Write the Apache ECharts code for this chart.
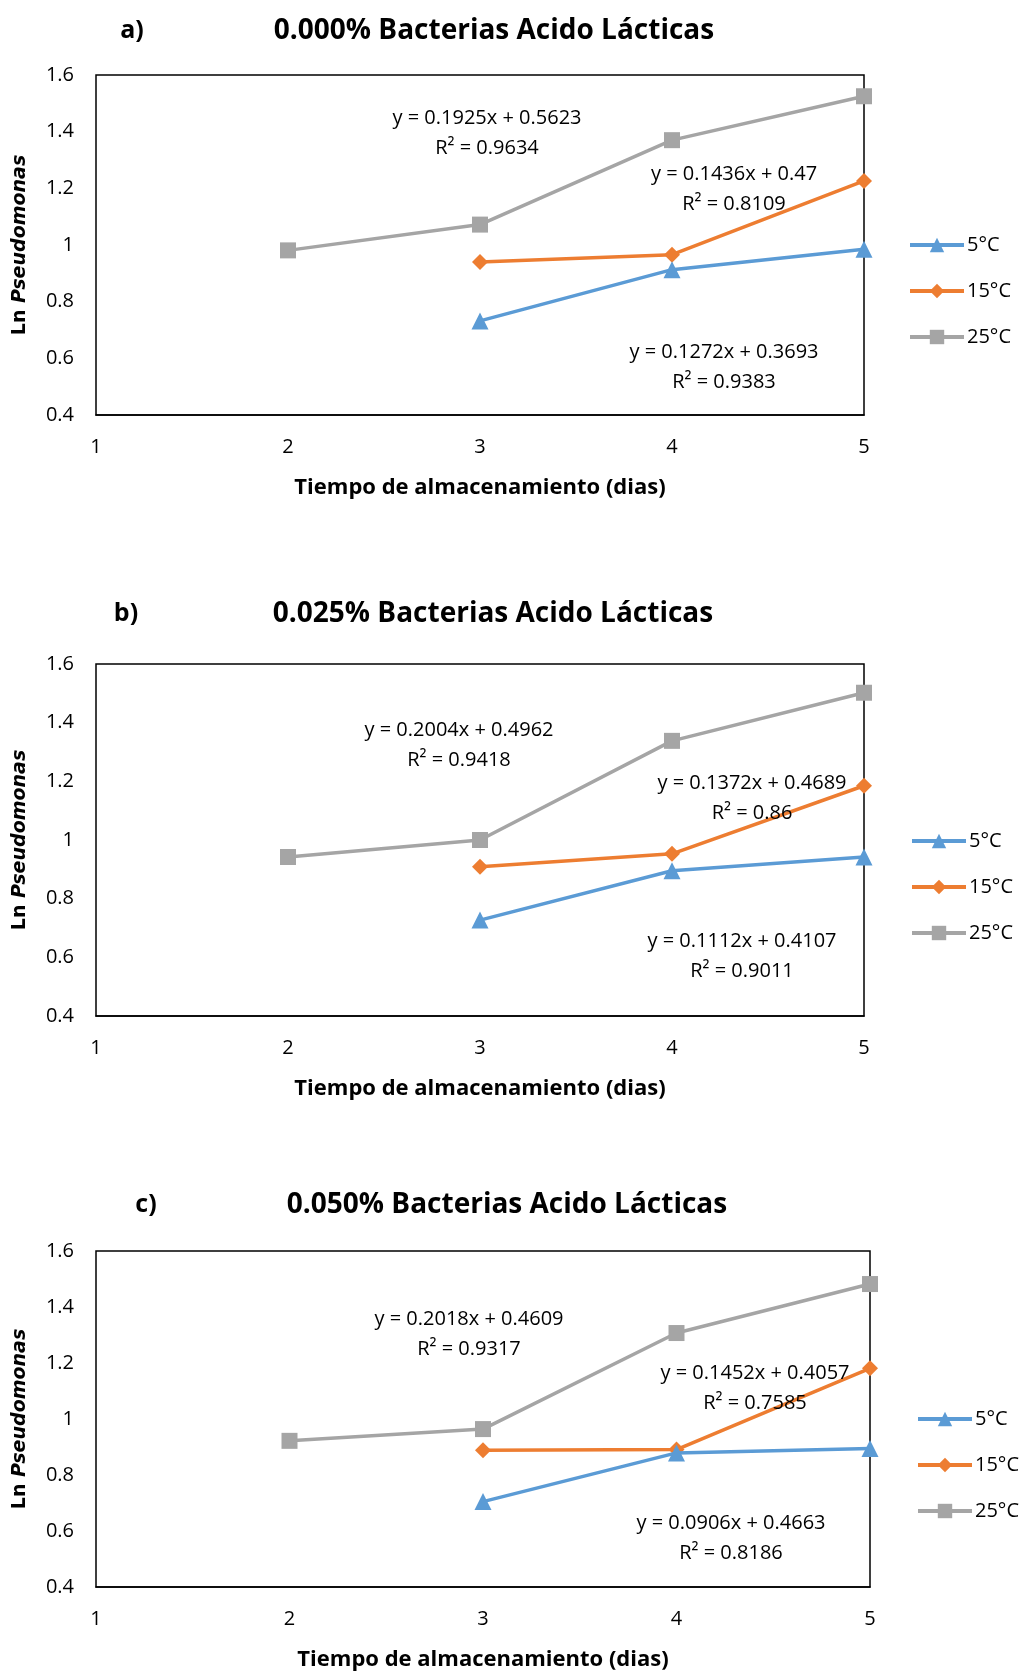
<!DOCTYPE html>
<html style="height: 100%">
<head>
    <meta charset="UTF-8">
    <title>Ln Pseudomonas</title>
    <script src="https://cdn.jsdelivr.net/npm/echarts/dist/echarts.min.js"></script>
</head>
<body style="height: 100%; margin: 0; background: #fff">
    <div id="main" style="width: 1024px; height: 1673px"></div>
    <script type="text/javascript">
        // datos
        var dias = [3, 4, 5];
        var dias25 = [2, 3, 4, 5];
        var nombres = ['5°C', '15°C', '25°C'];
        var titulos = ['0.000% Bacterias Acido Lácticas', '0.025% Bacterias Acido Lácticas', '0.050% Bacterias Acido Lácticas'];
        var letras = ['a)', 'b)', 'c)'];

        var a5 = [0.732, 0.913, 0.985];
        var a15 = [0.940, 0.966, 1.226];
        var a25 = [0.981, 1.072, 1.370, 1.525];
        var b5 = [0.727, 0.895, 0.942];
        var b15 = [0.909, 0.953, 1.185];
        var b25 = [0.942, 1.000, 1.338, 1.502];
        var c5 = [0.705, 0.879, 0.895];
        var c15 = [0.888, 0.891, 1.181];
        var c25 = [0.922, 0.964, 1.307, 1.482];

        var ecuaciones = [
            [['y = 0.1925x + 0.5623', 'R² = 0.9634'], ['y = 0.1436x + 0.47', 'R² = 0.8109'], ['y = 0.1272x + 0.3693', 'R² = 0.9383']],
            [['y = 0.2004x + 0.4962', 'R² = 0.9418'], ['y = 0.1372x + 0.4689', 'R² = 0.86'], ['y = 0.1112x + 0.4107', 'R² = 0.9011']],
            [['y = 0.2018x + 0.4609', 'R² = 0.9317'], ['y = 0.1452x + 0.4057', 'R² = 0.7585'], ['y = 0.0906x + 0.4663', 'R² = 0.8186']]
        ];

        var colores = ['#5B9BD5', '#ED7D31', '#A5A5A5'];
        var simbolos = ['triangle', 'diamond', 'rect'];
        var tamanos = [17, 16, 16];
        var fuente = '"Open Sans", "Liberation Sans", sans-serif';

        // posiciones de cada panel
        var paneles = [
            {left: 96, top: 75, width: 768, height: 340, titulo: 31, letra: 132, centro: 494,
             eq: [[487, 118], [734, 174], [724, 352]], leyenda: 235, leyX: 908},
            {left: 96, top: 664, width: 768, height: 352, titulo: 614, letra: 126, centro: 493,
             eq: [[459, 730], [752, 783], [742, 941]], leyenda: 831, leyX: 910},
            {left: 96, top: 1251, width: 774, height: 336, titulo: 1205, letra: 146, centro: 507,
             eq: [[469, 1319], [755, 1373], [731, 1523]], leyenda: 1409, leyX: 916}
        ];

        var datos = [[a5, a15, a25], [b5, b15, b25], [c5, c15, c25]];

        var grid = [], xAxis = [], yAxis = [], series = [], legend = [], graphic = [];

        paneles.forEach(function (p, i) {
            grid.push({
                left: p.left, top: p.top, width: p.width, height: p.height,
                show: true, borderColor: '#000', borderWidth: 1.5, backgroundColor: '#fff'
            });
            xAxis.push({
                type: 'value', gridIndex: i, min: 1, max: 5, interval: 1,
                axisLine: {show: true, onZero: false, lineStyle: {color: '#000', width: 1.5}},
                axisTick: {show: false}, splitLine: {show: false},
                axisLabel: {color: '#000', fontSize: 20, margin: 22, fontFamily: fuente},
                name: 'Tiempo de almacenamiento (dias)', nameLocation: 'middle', nameGap: 62,
                nameTextStyle: {color: '#000', fontSize: 22, fontWeight: 'bold', fontFamily: fuente}
            });
            yAxis.push({
                type: 'value', gridIndex: i, min: 0.4, max: 1.6, interval: 0.2,
                axisLine: {show: false}, axisTick: {show: false}, splitLine: {show: false},
                axisLabel: {color: '#000', fontSize: 20, margin: 22, fontFamily: fuente},
                name: '{n|Ln }{i|Pseudomonas}', nameLocation: 'middle', nameGap: 66, nameRotate: 90,
                nameTextStyle: {
                    rich: {
                        n: {fontSize: 19, fontWeight: 'bold', color: '#000', fontFamily: '"DejaVu Sans", sans-serif'},
                        i: {fontSize: 19, fontWeight: 'bold', fontStyle: 'italic', color: '#000', fontFamily: '"DejaVu Sans", sans-serif'}
                    }
                }
            });
            datos[i].forEach(function (valores, k) {
                var xs = k === 2 ? dias25 : dias;
                series.push({
                    name: nombres[k], type: 'line', xAxisIndex: i, yAxisIndex: i,
                    data: valores.map(function (v, j) { return [xs[j], v]; }),
                    symbol: simbolos[k], symbolSize: tamanos[k],
                    lineStyle: {color: colores[k], width: 3.5},
                    itemStyle: {color: colores[k]},
                    z: 3 - k
                });
            });
            legend.push({
                data: nombres, orient: 'vertical', left: p.leyX, top: p.leyenda, padding: 0,
                itemWidth: 54, itemHeight: 18, itemGap: 26,
                lineStyle: {width: 4},
                textStyle: {fontSize: 20, color: '#000', fontFamily: fuente, padding: [0, 0, 0, -2]}
            });
            graphic.push({
                type: 'text', x: p.letra, y: p.titulo,
                style: {text: letras[i], font: 'bold 25px ' + fuente, fill: '#000', textAlign: 'center', textVerticalAlign: 'middle'}
            });
            graphic.push({
                type: 'text', x: p.centro, y: p.titulo,
                style: {text: titulos[i], font: 'bold 28px ' + fuente, fill: '#000', textAlign: 'center', textVerticalAlign: 'middle'}
            });
            ecuaciones[i].forEach(function (eq, k) {
                graphic.push({
                    type: 'text', x: p.eq[k][0], y: p.eq[k][1] - 15, z: 10,
                    style: {text: eq[0] + '\n' + eq[1], font: '20px ' + fuente, lineHeight: 30, fill: '#000',
                            textAlign: 'center', textVerticalAlign: 'top'}
                });
            });
        });

        var myChart = echarts.init(document.getElementById('main'));
        myChart.setOption({
            animation: false,
            backgroundColor: '#fff',
            grid: grid, xAxis: xAxis, yAxis: yAxis, series: series,
            legend: legend, graphic: graphic
        });
    </script>
</body>
</html>
